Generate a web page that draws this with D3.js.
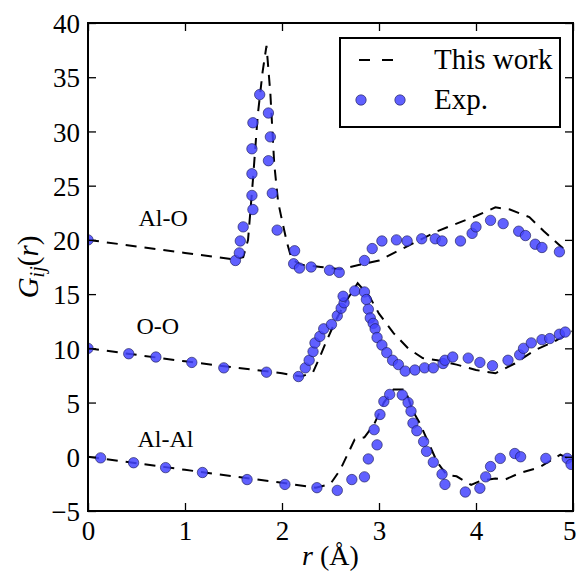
<!DOCTYPE html>
<html>
<head>
<meta charset="utf-8">
<script src="https://cdn.jsdelivr.net/npm/d3@7"></script>
<style>
  html, body { margin: 0; padding: 0; background: #fff; }
  svg { display: block; }
  text { font-family: "Liberation Serif", "DejaVu Serif", serif; fill: #000; }
</style>
</head>
<body>
<svg id="chart" width="577" height="578"></svg>
<script>
// ---- Data ----
const xTicks = [0, 1, 2, 3, 4, 5];
const yTicks = [-5, 0, 5, 10, 15, 20, 25, 30, 35, 40];
const pairLabels = [
  { name: "Al-O",  x: 0.52, y: 21.3 },
  { name: "O-O",   x: 0.50, y: 11.3 },
  { name: "Al-Al", x: 0.51, y: 0.9 }
];

// "This work" (dashed lines)
const alOLineX = [0, 0.5, 1.0, 1.5, 1.6, 1.65, 1.7, 1.75, 1.8, 1.84, 1.88, 1.92, 1.96, 2.0, 2.05, 2.1, 2.2, 2.4, 2.6, 2.8, 3.0, 3.2, 3.4, 3.6, 3.8, 4.0, 4.2, 4.35, 4.55, 4.7, 4.85, 4.95];
const alOLineY = [20.0, 19.4, 18.8, 18.2, 18.4, 20.0, 25.5, 31.5, 35.5, 37.9, 33.5, 27.0, 23.5, 21.8, 19.8, 18.2, 17.7, 17.5, 17.3, 17.7, 18.1, 19.0, 19.9, 20.8, 21.5, 22.2, 23.0, 22.8, 22.1, 20.8, 19.6, 18.8];

const oOLineX = [0, 1.0, 2.0, 2.2, 2.32, 2.38, 2.45, 2.55, 2.65, 2.78, 2.9, 3.0, 3.15, 3.3, 3.45, 3.6, 3.8, 4.0, 4.2, 4.4, 4.6, 4.8, 5.0];
const oOLineY = [10.0, 8.8, 7.7, 7.4, 7.8, 9.0, 10.5, 12.5, 14.2, 16.0, 14.8, 13.2, 11.4, 10.0, 9.1, 8.9, 8.5, 8.0, 7.7, 8.6, 9.8, 10.6, 11.6];

const alAlLineX = [0, 1.0, 2.0, 2.35, 2.5, 2.6, 2.75, 2.85, 2.95, 3.05, 3.15, 3.27, 3.35, 3.42, 3.5, 3.6, 3.7, 3.8, 3.95, 4.05, 4.2, 4.3, 4.45, 4.65, 4.87, 5.0];
const alAlLineY = [0.0, -1.2, -2.4, -2.85, -2.5, -1.2, 1.6, 1.8, 3.0, 5.0, 6.2, 6.2, 4.2, 3.1, 1.5, -0.5, -1.7, -1.8, -2.6, -2.2, -2.0, -2.1, -1.5, -1.0, 0.2, -0.4];

// "Exp." (points)
const alOExpX = [0.0, 1.52, 1.56, 1.57, 1.60, 1.70, 1.69, 1.69, 1.69, 1.70, 1.77, 1.86, 1.88, 1.86, 1.90, 1.95, 2.13, 2.12, 2.18, 2.30, 2.49, 2.59, 2.85, 2.93, 3.03, 3.18, 3.29, 3.44, 3.58, 3.65, 3.84, 3.96, 4.00, 4.15, 4.28, 4.44, 4.51, 4.61, 4.68, 4.86];
const alOExpY = [20.0, 18.1, 18.8, 19.9, 21.2, 22.8, 24.1, 26.1, 28.4, 30.8, 33.4, 31.7, 29.5, 27.3, 24.3, 20.9, 19.0, 17.8, 17.4, 17.5, 17.2, 17.0, 18.1, 19.2, 19.9, 20.0, 19.9, 20.1, 20.1, 19.9, 19.9, 20.6, 21.2, 21.8, 21.5, 20.8, 20.4, 19.6, 19.3, 18.9];

const oOExpX = [0.0, 0.42, 0.70, 1.07, 1.40, 1.84, 2.17, 2.24, 2.28, 2.32, 2.34, 2.39, 2.43, 2.51, 2.57, 2.61, 2.64, 2.63, 2.75, 2.85, 2.87, 2.89, 2.91, 2.94, 2.96, 2.98, 3.03, 3.08, 3.14, 3.20, 3.27, 3.37, 3.47, 3.56, 3.66, 3.68, 3.76, 3.92, 4.04, 4.17, 4.33, 4.45, 4.49, 4.57, 4.68, 4.76, 4.86, 4.92];
const oOExpY = [10.0, 9.5, 9.2, 8.7, 8.2, 7.8, 7.4, 8.2, 8.9, 9.7, 10.5, 11.1, 11.8, 12.2, 13.0, 13.7, 14.2, 14.8, 15.3, 15.2, 14.5, 13.6, 12.8, 12.3, 11.8, 11.0, 10.3, 9.6, 8.9, 8.5, 7.9, 8.0, 8.2, 8.2, 8.6, 8.9, 9.2, 9.1, 8.7, 8.4, 8.9, 9.4, 10.0, 10.5, 10.8, 10.9, 11.3, 11.5];

const alAlExpX = [0.13, 0.47, 0.80, 1.18, 1.64, 2.03, 2.36, 2.57, 2.72, 2.85, 2.89, 2.98, 2.95, 3.01, 3.05, 3.11, 3.24, 3.30, 3.33, 3.35, 3.39, 3.46, 3.49, 3.56, 3.65, 3.68, 3.89, 4.04, 4.10, 4.15, 4.25, 4.40, 4.46, 4.72, 4.94, 4.98];
const alAlExpY = [-0.1, -0.55, -1.0, -1.45, -2.1, -2.55, -2.85, -3.1, -2.1, -1.85, -0.2, 1.1, 2.5, 3.9, 5.1, 5.75, 5.7, 5.0, 4.2, 3.1, 2.4, 1.4, 0.5, -0.5, -1.6, -2.55, -3.25, -2.9, -1.85, -0.9, -0.15, 0.3, 0.0, -0.15, -0.15, -0.7];

const legendLabels = ["This work", "Exp."];

// ---- Layout ----
const svg = d3.select("#chart");
const margin = { left: 88, top: 23, right: 4, bottom: 67 };
const W = 577, H = 578;
const x = d3.scaleLinear().domain([0, 5]).range([margin.left, W - margin.right]);
const y = d3.scaleLinear().domain([-5, 40]).range([H - margin.bottom, margin.top]);

const dotFill = "#4444ff";
const dash = "11,8";
const tickFont = 27;

const zip = (xs, ys) => xs.map((v, i) => [v, ys[i]]);
const line = d3.line().x(d => x(d[0])).y(d => y(d[1]));

const plot = svg.append("g");
const clipId = "clip";
svg.append("clipPath").attr("id", clipId).append("rect")
  .attr("x", x(0)).attr("y", y(40)).attr("width", x(5) - x(0)).attr("height", y(-5) - y(40));

const lines = [zip(alOLineX, alOLineY), zip(oOLineX, oOLineY), zip(alAlLineX, alAlLineY)];
const exps = [zip(alOExpX, alOExpY), zip(oOExpX, oOExpY), zip(alAlExpX, alAlExpY)];

const content = plot.append("g").attr("clip-path", `url(#${clipId})`);
lines.forEach(l => {
  content.append("path").datum(l).attr("d", line)
    .attr("fill", "none").attr("stroke", "#000").attr("stroke-width", 2)
    .attr("stroke-dasharray", dash);
});
exps.forEach(e => {
  content.append("g").selectAll("circle").data(e).join("circle")
    .attr("cx", d => x(d[0])).attr("cy", d => y(d[1])).attr("r", 5.2)
    .attr("fill", dotFill).attr("fill-opacity", 0.85)
    .attr("stroke", "#1a1a55").attr("stroke-opacity", 0.7).attr("stroke-width", 0.9);
});

// Pair labels
plot.selectAll("text.pair").data(pairLabels).join("text")
  .attr("class", "pair")
  .attr("x", d => x(d.x)).attr("y", d => y(d.y))
  .attr("font-size", 24)
  .text(d => d.name);

// Axes: ticks inward on all four sides
const tickLen = 8;
const axB = d3.axisBottom(x).tickValues(xTicks).tickSize(-tickLen).tickPadding(10).tickFormat(d3.format("d"));
const axT = d3.axisTop(x).tickValues(xTicks).tickSize(-tickLen).tickFormat("");
const axL = d3.axisLeft(y).tickValues(yTicks).tickSize(-tickLen).tickPadding(8).tickFormat(d => d < 0 ? "\u2212" + Math.abs(d) : d);
const axR = d3.axisRight(y).tickValues(yTicks).tickSize(-tickLen).tickFormat("");

function styleAxis(g) {
  g.select(".domain").remove();
  g.selectAll(".tick line").attr("stroke", "#000").attr("stroke-width", 1.3);
  g.selectAll(".tick text").attr("font-size", tickFont).attr("font-family", "Liberation Serif, serif").attr("fill", "#000");
}
const gB = svg.append("g").attr("transform", `translate(0,${y(-5)})`).call(axB).call(styleAxis);
// keep the last label inside the page edge
gB.selectAll(".tick text").filter(d => d === 5).attr("text-anchor", "end").attr("dx", 3);
svg.append("g").attr("transform", `translate(0,${y(40)})`).call(axT).call(styleAxis);
svg.append("g").attr("transform", `translate(${x(0)},0)`).call(axL).call(styleAxis)
  .selectAll(".tick text").attr("dy", "0.36em");
svg.append("g").attr("transform", `translate(${x(5)},0)`).call(axR).call(styleAxis);

// Frame
svg.append("rect")
  .attr("x", x(0)).attr("y", y(40)).attr("width", x(5) - x(0)).attr("height", y(-5) - y(40))
  .attr("fill", "none").attr("stroke", "#000").attr("stroke-width", 2);

// Axis labels
const xl = svg.append("text").attr("x", (x(0) + x(5)) / 2).attr("y", 565)
  .attr("text-anchor", "middle").attr("font-size", 28);
xl.append("tspan").attr("font-style", "italic").text("r");
xl.append("tspan").text(" (Å)");

const yl = svg.append("text")
  .attr("transform", `translate(38,${(y(-5) + y(40)) / 2}) rotate(-90)`)
  .attr("text-anchor", "middle").attr("font-size", 29);
yl.append("tspan").attr("font-style", "italic").text("G");
yl.append("tspan").attr("font-style", "italic").attr("font-size", 20).attr("dy", 6).text("ij");
yl.append("tspan").attr("dy", -6).text("(");
yl.append("tspan").attr("font-style", "italic").text("r");
yl.append("tspan").text(")");

// Legend
const lg = svg.append("g");
lg.append("rect").attr("x", 340).attr("y", 38).attr("width", 220).attr("height", 89)
  .attr("fill", "#fff").attr("stroke", "#000").attr("stroke-width", 2);
lg.append("line").attr("x1", 359).attr("x2", 393).attr("y1", 60).attr("y2", 60)
  .attr("stroke", "#000").attr("stroke-width", 2).attr("stroke-dasharray", "11,12");
[361, 400].forEach(cx => {
  lg.append("circle").attr("cx", cx).attr("cy", 100).attr("r", 5.2)
    .attr("fill", dotFill).attr("fill-opacity", 0.85)
    .attr("stroke", "#1a1a55").attr("stroke-opacity", 0.7).attr("stroke-width", 0.9);
});
lg.selectAll("text").data(legendLabels).join("text")
  .attr("x", 434).attr("y", (d, i) => 69 + i * 40)
  .attr("font-size", 29).text(d => d);
</script>
</body>
</html>
